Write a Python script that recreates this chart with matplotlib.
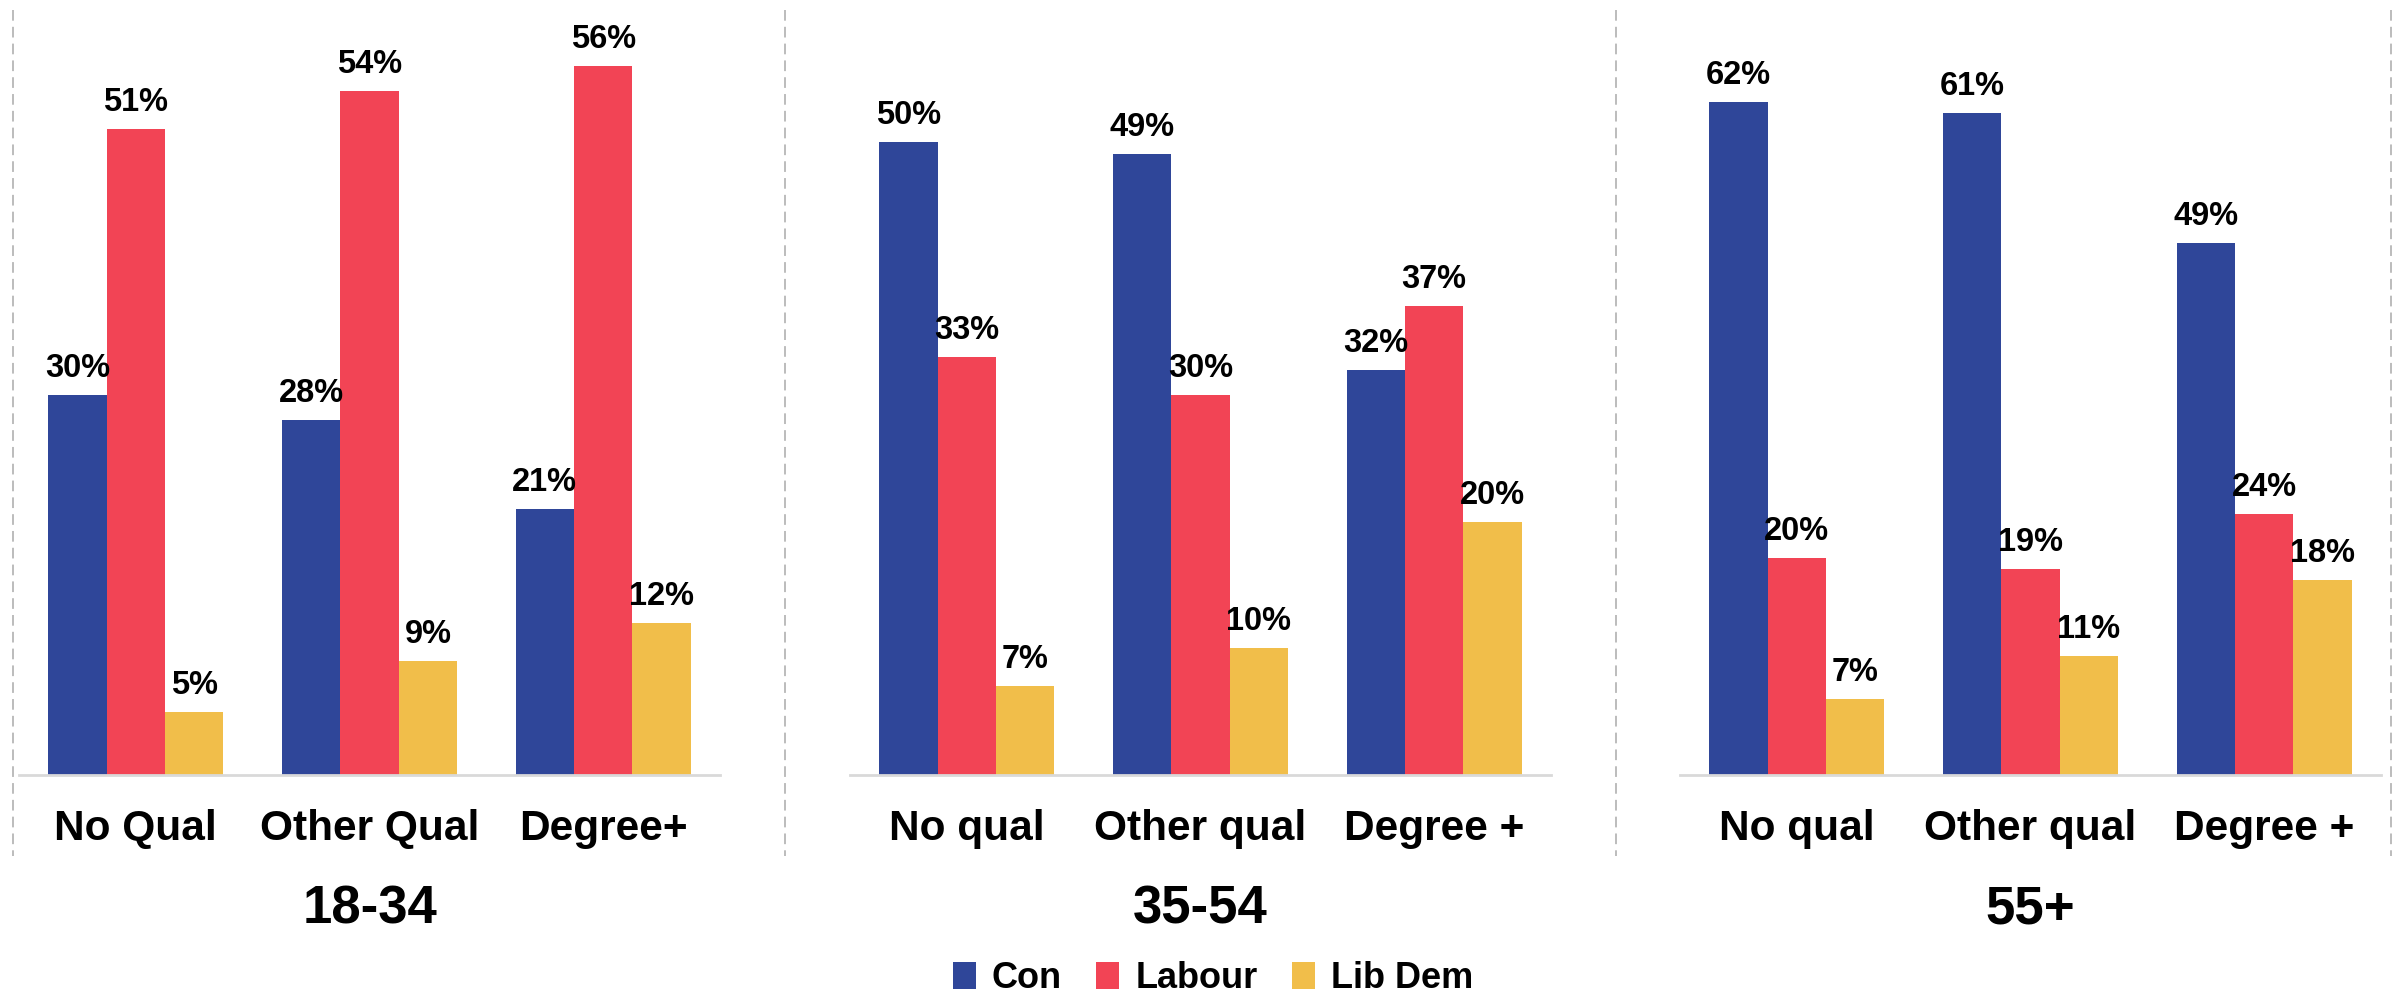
import matplotlib
matplotlib.use("Agg")
import matplotlib.pyplot as plt
from matplotlib.patches import Patch
from matplotlib.lines import Line2D
import numpy as np

plt.rcParams['font.family'] = ['Liberation Sans', 'DejaVu Sans']
plt.rcParams['font.weight'] = 'bold'

series = ["Con", "Labour", "Lib Dem"]
colors = ["#2F4699", "#F24455", "#F1BE4A"]

age_groups = ["18-34", "35-54", "55+"]
categories = [
    ["No Qual", "Other Qual", "Degree+"],
    ["No qual", "Other qual", "Degree +"],
    ["No qual", "Other qual", "Degree +"],
]
con = [[30, 28, 21], [50, 49, 32], [62, 61, 49]]
labour = [[51, 54, 56], [33, 30, 37], [20, 19, 24]]
libdem = [[5, 9, 12], [7, 10, 20], [7, 11, 18]]
ylims = [60, 60, 70]

W, H = 2403, 994
fig = plt.figure(figsize=(W / 100, H / 100), dpi=100)

axes_left_px = [19, 850, 1680]
axes_w_px = 701
axes_top_px = 15
axes_bottom_px = 775

bw = 0.25
for p in range(3):
    ax = fig.add_axes([axes_left_px[p] / W, (H - axes_bottom_px) / H,
                       axes_w_px / W, (axes_bottom_px - axes_top_px) / H])
    x = np.arange(3)
    vals = [con[p], labour[p], libdem[p]]
    for s in range(3):
        xs = x + (s - 1) * bw
        ax.bar(xs, vals[s], width=bw, color=colors[s], label=series[s], linewidth=0)
        for xi, v in zip(xs, vals[s]):
            ax.annotate(f"{v}%", xy=(xi, v), xytext=(0, 18), textcoords='offset pixels',
                        ha='center', va='baseline', fontsize=23.5, fontweight='bold')
    for xi, c in zip(x, categories[p]):
        ax.annotate(c, xy=(xi, 0), xytext=(0, -65), textcoords='offset pixels',
                    ha='center', va='baseline', fontsize=30.5, fontweight='bold',
                    annotation_clip=False)
    ax.annotate(age_groups[p], xy=(1, 0), xytext=(0, -149), textcoords='offset pixels',
                ha='center', va='baseline', fontsize=38, fontweight='bold',
                annotation_clip=False)
    ax.set_xlim(-0.5, 2.5)
    ax.set_ylim(0, ylims[p])
    for sp in ['top', 'right', 'left']:
        ax.spines[sp].set_visible(False)
    ax.spines['bottom'].set_color('#D9D9D9')
    ax.spines['bottom'].set_linewidth(2)
    ax.set_xticks([])
    ax.set_yticks([])
    ax.patch.set_alpha(0)

# dashed separators
for xpx in [13, 785, 1616, 2391]:
    fig.add_artist(Line2D([xpx / W, xpx / W], [(H - 10) / H, (H - 856) / H],
                          transform=fig.transFigure, color='#AAAAAA', lw=1.1,
                          linestyle=(0, (7, 4))))

handles = [Patch(facecolor=c, edgecolor='none') for c in colors]
fig.legend(handles, series, loc='lower center', bbox_to_anchor=(1213 / W, -2 / H),
           ncol=3, frameon=False, fontsize=26, prop={'weight': 'bold', 'size': 26},
           handlelength=0.64, handleheight=0.8, handletextpad=0.44,
           columnspacing=0.95, borderpad=0, borderaxespad=0)

fig.savefig("out.png", dpi=100, facecolor='white')
